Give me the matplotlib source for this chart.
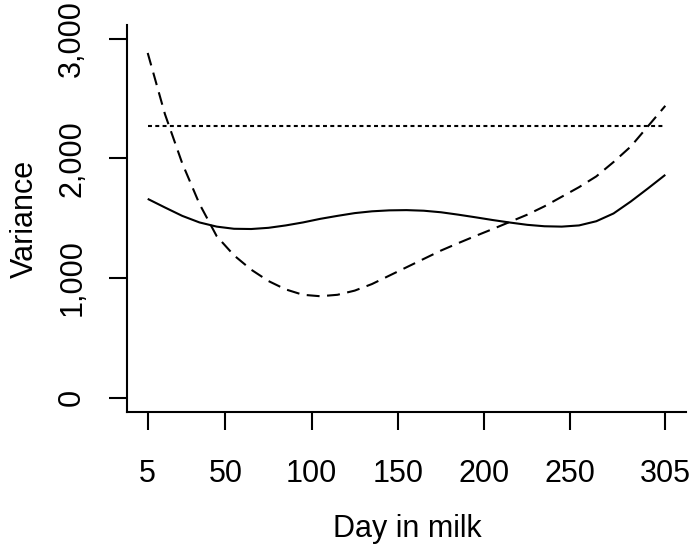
import matplotlib
matplotlib.use("Agg")
import matplotlib.pyplot as plt
from matplotlib.ticker import FuncFormatter

plt.rcParams['font.family'] = ['Liberation Sans', 'DejaVu Sans']

days = [5, 15, 25, 35, 45, 55, 65, 75, 85, 95, 105, 115, 125, 135, 145, 155,
        165, 175, 185, 195, 205, 215, 225, 235, 245, 255, 265, 275, 285, 295, 305]
solid_var = [1662, 1590, 1520, 1465, 1430, 1412, 1410, 1420, 1440, 1465, 1495,
             1520, 1543, 1558, 1566, 1568, 1563, 1550, 1530, 1508, 1485, 1464,
             1445, 1433, 1430, 1440, 1475, 1540, 1640, 1750, 1863]
dashed_var = [2882, 2370, 1960, 1620, 1350, 1190, 1070, 975, 905, 860, 848, 860,
              895, 950, 1020, 1090, 1160, 1230, 1292, 1352, 1410, 1470, 1530,
              1600, 1680, 1760, 1850, 1970, 2100, 2270, 2440]
dotted_days = [5, 305]
dotted_var = [2275, 2275]

xticks = [5, 50, 100, 150, 200, 250, 305]
yticks = [0, 1000, 2000, 3000]

fs = 22

fig = plt.figure(figsize=(6.9, 5.45), dpi=100)
ax = fig.add_axes([127/690, (545-412)/545, (686-127)/690, (412-24.5)/545])

lw = 1.5
ax.plot(days, solid_var, color='black', lw=lw, solid_capstyle='butt')
ax.plot(days, dashed_var, color='black', lw=lw, linestyle=(0, (6.2, 3.6)), dash_capstyle='butt')
ax.plot(dotted_days, dotted_var, color='black', lw=lw, linestyle=(0, (1.9, 1.6)), dash_capstyle='butt')

ax.set_xlim(-7, 317)
ax.set_ylim(-120, 3120)
ax.set_xticks(xticks)
ax.set_yticks(yticks)
ax.yaxis.set_major_formatter(FuncFormatter(lambda v, p: f"{int(v):,}"))

for s in ['top', 'right']:
    ax.spines[s].set_visible(False)
for s in ['left', 'bottom']:
    ax.spines[s].set_linewidth(1.5)

ax.tick_params(axis='both', direction='out', length=13.2, width=1.5, labelsize=fs)
ax.tick_params(axis='x', pad=20.5)
ax.tick_params(axis='y', pad=15.5)
for lab in ax.get_yticklabels():
    lab.set_rotation(90)
    lab.set_va('center')

fig.text(407/690, (545-536.7)/545, 'Day in milk', ha='center', va='baseline', fontsize=fs)
fig.text(33.3/690, (545-219)/545, 'Variance', ha='center', va='baseline', rotation=90,
         rotation_mode='anchor', fontsize=fs)

fig.savefig('out.png', dpi=100)
